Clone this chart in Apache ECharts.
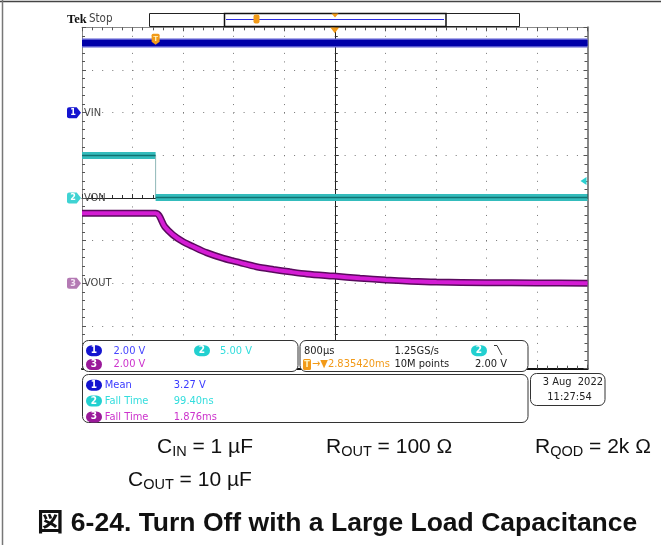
<!DOCTYPE html>
<html>
<head>
<meta charset="utf-8">
<title>Turn Off with a Large Load Capacitance</title>
<script src="https://cdn.jsdelivr.net/npm/echarts@6/dist/echarts.min.js"></script>
<style>
  html, body { margin: 0; padding: 0; background: #fff; }
  #chart { width: 661px; height: 545px; }
</style>
</head>
<body>
<div id="chart"></div>
<script>
// time is in ms relative to the screen centre, 800 us/div, 10 div
const timeMin = -4
const timeMax = 4
const timeDiv = 0.8

// channel settings: volts per div and ground offset (div from bottom)
const chNames = ['VIN', 'VON', 'VOUT']
const chVoltsPerDiv = [2, 5, 2]
const chOffsetDiv = [6, 4, 2]
const trigLevel = 2.0
const trigTime = -2.835

// traces
const vinTime = [-4, 4]
const vinVolts = [3.27, 3.27]

const vonHighTime = [-4, -2.835]
const vonHighVolts = [4.98, 4.98]
const vonLowTime = [-2.835, 4]
const vonLowVolts = [0.05, 0.05]

const voutTime = [-4, -2.835, -2.69, -2.56, -2.40, -2.24, -2.03, -1.76, -1.50, -1.24, -0.97, -0.71, -0.44, -0.02, 0.40, 0.81, 1.20, 1.61, 2.40, 3.20, 4]
const voutVolts = [3.28, 3.28, 2.65, 2.27, 1.95, 1.72, 1.44, 1.17, 0.97, 0.78, 0.65, 0.54, 0.44, 0.34, 0.24, 0.16, 0.10, 0.06, 0.03, 0.02, 0.01]

const pairs = (xs, ys) => xs.map((x, i) => [x, ys[i]])

const scopeFont = "'Liberation Sans Narrow', 'DejaVu Sans Condensed', 'Liberation Sans', sans-serif"
const textFont = "'Liberation Sans', Arial, 'Noto Sans CJK JP', sans-serif"

const BLUE = '#1414d0'
const CYAN = '#22d0d0'
const PURPLE = '#9a1a9a'
const ORANGE = '#f29a18'

const chart = echarts.init(document.getElementById('chart'), null, { renderer: 'canvas' })

const chAxis = (i) => ({
  type: 'value',
  show: false,
  min: -chOffsetDiv[i] * chVoltsPerDiv[i],
  max: (8 - chOffsetDiv[i]) * chVoltsPerDiv[i]
})

const gratAxis = {
  type: 'value',
  min: -4,
  max: 4,
  interval: 1,
  axisLabel: { show: false }
}

const groundMarker = (i, fill, numColor) => ([
  {
    coord: [timeMin, 0],
    symbol: 'path://M2,0 L9,0 L13,5.5 L9,11 L2,11 Q0,11 0,9 L0,2 Q0,0 2,0 Z',
    symbolSize: [14, 11],
    symbolOffset: [-8, 0],
    itemStyle: { color: fill },
    label: { show: true, position: 'inside', formatter: String(i + 1), color: numColor, fontSize: 9, fontWeight: 'bold', fontFamily: scopeFont, offset: [-1, 0] }
  },
  {
    coord: [timeMin, 0],
    symbol: 'rect',
    symbolSize: 0,
    label: { show: true, position: 'right', distance: 2, formatter: chNames[i], color: '#444', fontSize: 11, fontFamily: scopeFont }
  }
])

const text = (x, y, str, color, size, extra) => ({
  type: 'text', x, y, z: 110,
  style: Object.assign({ text: str, fill: color, font: (size || 11) + 'px ' + scopeFont, verticalAlign: 'middle' }, extra || {})
})

const badge = (x, y, num, fill) => ([
  { type: 'rect', z: 110, shape: { x, y: y - 5.5, width: 16, height: 11, r: 5.5 }, style: { fill } },
  { type: 'text', z: 111, x: x + 8, y, style: { text: num, fill: '#fff', font: 'bold 10px ' + scopeFont, align: 'center', verticalAlign: 'middle' } }
])

const panel = (x, y, w, h) => ({
  type: 'rect', z: 105, shape: { x, y, width: w, height: h, r: 6 },
  style: { fill: '#fff', stroke: '#333', lineWidth: 1 }
})

const sub = (main, s, rest, x, y) => ({
  type: 'text', x, y, z: 110,
  style: {
    text: '{a|' + main + '}{s|' + s + '}{a|' + rest + '}',
    verticalAlign: 'middle',
    rich: {
      a: { fontSize: 21, fontFamily: textFont, fill: '#111', lineHeight: 24, verticalAlign: 'middle' },
      s: { fontSize: 14.5, fontFamily: textFont, fill: '#111', lineHeight: 12, verticalAlign: 'bottom' }
    }
  }
})

const r1 = 350.7, r2 = 364.5
const m1 = 385.2, m2 = 401, m3 = 416.9

const graphics = [
  // page frame
  { type: 'line', z: 120, shape: { x1: 0, y1: 1.5, x2: 661, y2: 1.5 }, style: { stroke: '#444', lineWidth: 1.5 } },
  { type: 'line', z: 120, shape: { x1: 2.5, y1: 0, x2: 2.5, y2: 545 }, style: { stroke: '#777', lineWidth: 1.5 } },

  // header
  { type: 'text', x: 67, y: 19.5, z: 110, style: { text: 'Tek', fill: '#111', font: 'bold 12.5px "Liberation Serif", "DejaVu Serif", serif', verticalAlign: 'middle' } },
  text(89, 19.5, 'Stop', '#444', 11.5),

  // record bar
  { type: 'rect', z: 110, shape: { x: 149.5, y: 13.5, width: 370, height: 13 }, style: { fill: '#fff', stroke: '#222', lineWidth: 1 } },
  { type: 'rect', z: 111, shape: { x: 224.5, y: 13.5, width: 221.5, height: 13 }, style: { fill: 'none', stroke: '#111', lineWidth: 1.5 } },
  { type: 'line', z: 111, shape: { x1: 226, y1: 19.5, x2: 444, y2: 19.5 }, style: { stroke: '#2a2ae0', lineWidth: 1 } },
  { type: 'rect', z: 112, shape: { x: 253.5, y: 14.5, width: 6, height: 9, r: 2 }, style: { fill: ORANGE } },
  { type: 'polygon', z: 112, shape: { points: [[331.5, 13.5], [338.5, 13.5], [335, 17.5]] }, style: { fill: ORANGE } },

  // settings panels
  panel(82.5, 340.5, 215.5, 31),
  panel(300, 340.5, 228, 31),
  panel(82.5, 374.5, 445.5, 48),
  panel(530.5, 373.5, 74.5, 32),

  ...badge(86, r1, '1', BLUE), text(113.4, r1, '2.00 V', '#4545ff'),
  ...badge(194, r1, '2', CYAN), text(220, r1, '5.00 V', '#33dddd'),
  ...badge(86, r2, '3', PURPLE), text(113.4, r2, '2.00 V', '#cc33cc'),

  text(304, r1, '800µs', '#222'),
  text(394.5, r1, '1.25GS/s', '#222'),
  ...badge(471, r1, '2', CYAN),
  { type: 'polyline', z: 110, shape: { points: [[494, 345.5], [497, 345.5], [502, 355]] }, style: { stroke: '#333', lineWidth: 1, fill: 'none' } },
  { type: 'rect', z: 110, shape: { x: 303, y: r2 - 5.5, width: 8, height: 11, r: 1.5 }, style: { fill: ORANGE } },
  { type: 'text', z: 111, x: 307, y: r2, style: { text: 'T', fill: '#fff4c0', font: 'bold 9px ' + scopeFont, align: 'center', verticalAlign: 'middle' } },
  text(312, r2, '→▼2.835420ms', ORANGE),
  text(394.5, r2, '10M points', '#222'),
  text(475, r2, '2.00 V', '#222'),

  ...badge(86, m1, '1', BLUE), text(104.8, m1, 'Mean', '#3a3aff'), text(173.8, m1, '3.27 V', '#3a3aff'),
  ...badge(86, m2, '2', CYAN), text(104.8, m2, 'Fall Time', '#33dddd'), text(173.8, m2, '99.40ns', '#33dddd'),
  ...badge(86, m3, '3', PURPLE), text(104.8, m3, 'Fall Time', '#cc33cc'), text(173.8, m3, '1.876ms', '#cc33cc'),

  text(603, 382.3, '3 Aug  2022', '#222', 11, { align: 'right' }),
  text(547.3, 397.3, '11:27:54', '#222'),

  // test conditions and caption
  sub('C', 'IN', ' = 1 µF', 157, 447),
  sub('R', 'OUT', ' = 100 Ω', 326, 447),
  sub('R', 'QOD', ' = 2k Ω', 535, 447),
  sub('C', 'OUT', ' = 10 µF', 128, 480),
  { type: 'text', x: 37, y: 524, z: 110, style: { text: '図 6-24. Turn Off with a Large Load Capacitance', fill: '#111', font: 'bold 26.5px ' + textFont, verticalAlign: 'middle' } }
]

const option = {
  animation: false,
  backgroundColor: '#fff',
  grid: { left: 82, top: 27.3, width: 505.5, height: 341.4 },
  xAxis: [
    {
      type: 'value', min: timeMin, max: timeMax, interval: timeDiv, position: 'bottom',
      axisLine: { onZero: false, lineStyle: { color: '#111', width: 2 } },
      axisTick: { inside: true, length: 4, lineStyle: { color: '#555' } },
      minorTick: { show: true, splitNumber: 5, length: 3, lineStyle: { color: '#555' } },
      axisLabel: { show: false },
      splitLine: { show: true, lineStyle: { color: '#777', width: 1, type: [1, 7.53] } }
    },
    {
      type: 'value', min: timeMin, max: timeMax, interval: timeDiv, position: 'top',
      axisLine: { onZero: false, lineStyle: { color: '#888', width: 1 } },
      axisTick: { inside: true, length: 4, lineStyle: { color: '#555' } },
      minorTick: { show: true, splitNumber: 5, length: 3, lineStyle: { color: '#555' } },
      axisLabel: { show: false },
      splitLine: { show: false }
    },
    {
      type: 'value', min: timeMin, max: timeMax, interval: timeDiv, position: 'bottom',
      axisLine: { onZero: true, onZeroAxisIndex: 3, lineStyle: { color: '#222', width: 1 } },
      axisTick: { inside: true, length: 4, lineStyle: { color: '#333' } },
      minorTick: { show: true, splitNumber: 5, length: 3, lineStyle: { color: '#333' } },
      axisLabel: { show: false },
      splitLine: { show: false }
    }
  ],
  yAxis: [
    chAxis(0),
    chAxis(1),
    chAxis(2),
    Object.assign({}, gratAxis, {
      position: 'left',
      axisLine: { show: true, onZero: false, lineStyle: { color: '#888', width: 1 } },
      axisTick: { show: true, inside: true, length: 4, lineStyle: { color: '#555' } },
      minorTick: { show: true, splitNumber: 5, length: 3, lineStyle: { color: '#555' } },
      splitLine: { show: true, lineStyle: { color: '#777', width: 1, type: [1, 9.1] } }
    }),
    Object.assign({}, gratAxis, {
      position: 'right',
      axisLine: { show: true, onZero: false, lineStyle: { color: '#888', width: 2 } },
      axisTick: { show: true, inside: true, length: 4, lineStyle: { color: '#555' } },
      minorTick: { show: true, splitNumber: 5, length: 3, lineStyle: { color: '#555' } },
      splitLine: { show: false }
    }),
    Object.assign({}, gratAxis, {
      position: 'left',
      axisLine: { show: true, onZero: true, onZeroAxisIndex: 0, lineStyle: { color: '#222', width: 1 } },
      axisTick: { show: true, inside: true, length: 4, lineStyle: { color: '#333' } },
      minorTick: { show: true, splitNumber: 5, length: 3, lineStyle: { color: '#333' } },
      splitLine: { show: false }
    })
  ],
  series: [
    {
      name: 'VIN halo', type: 'line', xAxisIndex: 0, yAxisIndex: 0, symbol: 'none', silent: true,
      lineStyle: { color: '#5858d0', width: 9 }, data: pairs(vinTime, vinVolts)
    },
    {
      name: 'VIN', type: 'line', xAxisIndex: 0, yAxisIndex: 0, symbol: 'none', silent: true,
      lineStyle: { color: '#0000a8', width: 6 }, data: pairs(vinTime, vinVolts),
      markPoint: {
        silent: true,
        data: [
          ...groundMarker(0, BLUE, '#fff'),
          {
            coord: [trigTime, chVoltsPerDiv[0] * (8 - chOffsetDiv[0])],
            symbol: 'path://M1.5,0 L6.5,0 Q8,0 8,1.5 L8,8 L4,11 L0,8 L0,1.5 Q0,0 1.5,0 Z',
            symbolSize: [8, 11], symbolOffset: [0, 12],
            itemStyle: { color: ORANGE },
            label: { show: true, position: 'inside', formatter: 'T', color: '#fff4c0', fontSize: 8, fontWeight: 'bold', offset: [0, -1] }
          },
          {
            coord: [0, chVoltsPerDiv[0] * (8 - chOffsetDiv[0])],
            symbol: 'path://M0,0 L10,0 L5,7 Z',
            symbolSize: [9, 6], symbolOffset: [0, 3],
            itemStyle: { color: ORANGE }, label: { show: false }
          }
        ]
      }
    },
    {
      name: 'VON high', type: 'line', xAxisIndex: 0, yAxisIndex: 1, symbol: 'none', silent: true,
      lineStyle: { color: '#34bcbc', width: 7 }, data: pairs(vonHighTime, vonHighVolts)
    },
    {
      name: 'VON edge', type: 'line', xAxisIndex: 0, yAxisIndex: 1, symbol: 'none', silent: true,
      lineStyle: { color: '#8fb8b8', width: 1 },
      data: [pairs(vonHighTime, vonHighVolts).slice(-1)[0], pairs(vonLowTime, vonLowVolts)[0]]
    },
    {
      name: 'VON low', type: 'line', xAxisIndex: 0, yAxisIndex: 1, symbol: 'none', silent: true,
      lineStyle: { color: '#34bcbc', width: 7 }, data: pairs(vonLowTime, vonLowVolts)
    },
    {
      name: 'VON', type: 'line', xAxisIndex: 0, yAxisIndex: 1, symbol: 'none', silent: true,
      lineStyle: { color: '#127272', width: 1.5 },
      data: pairs(vonHighTime, vonHighVolts).concat([[null, null]], pairs(vonLowTime, vonLowVolts)),
      connectNulls: false,
      markPoint: {
        silent: true,
        data: [
          ...groundMarker(1, '#3fd3d3', '#fff'),
          {
            coord: [timeMax, trigLevel],
            symbol: 'path://M0,5 L8,0 L8,10 Z',
            symbolSize: [6, 8], symbolOffset: [-4, 0],
            itemStyle: { color: '#2ad0d0' }, label: { show: false }
          }
        ]
      }
    },
    {
      name: 'VOUT halo', type: 'line', xAxisIndex: 0, yAxisIndex: 2, symbol: 'none', silent: true, smooth: 0.3,
      lineStyle: { color: '#5a0a5e', width: 7 }, data: pairs(voutTime, voutVolts)
    },
    {
      name: 'VOUT', type: 'line', xAxisIndex: 0, yAxisIndex: 2, symbol: 'none', silent: true, smooth: 0.3,
      lineStyle: { color: '#d41cd4', width: 4 }, data: pairs(voutTime, voutVolts),
      markPoint: { silent: true, data: groundMarker(2, '#b47ab4', '#f4e4f4') }
    }
  ],
  graphic: graphics
}

chart.setOption(option)
</script>
</body>
</html>
